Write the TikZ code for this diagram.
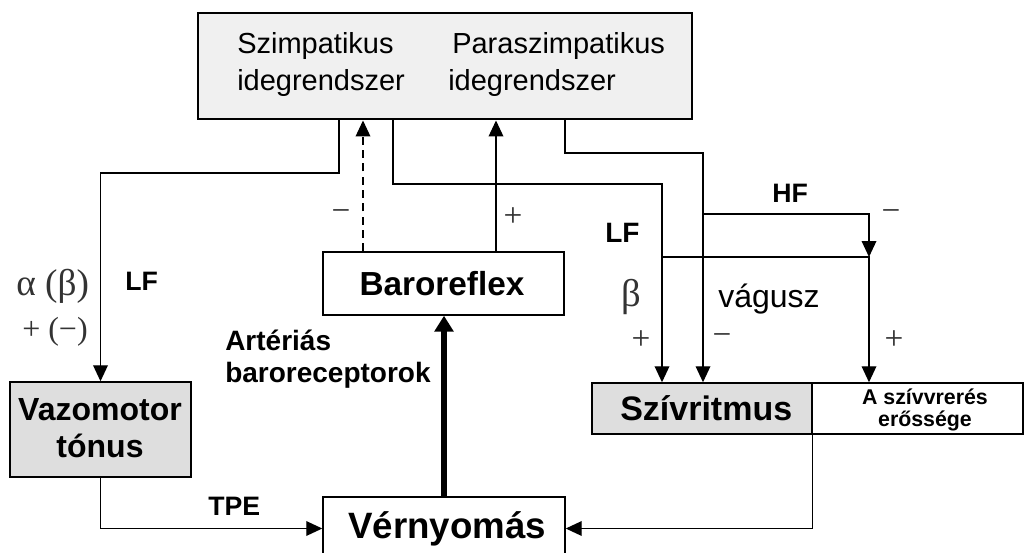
\documentclass[tikz,border=0pt]{standalone}
\usepackage{fontspec}
\setmainfont{Liberation Sans}
\newfontfamily\signfont{Liberation Serif}
\usetikzlibrary{arrows.meta}
\tikzset{
  conn/.style={line width=1pt},
  arr/.style={conn,-{Triangle[width=11pt,length=12pt]}},
  box/.style={draw,line width=1.1pt,inner sep=0pt},
  lbl/.style={inner sep=0pt,font=\bfseries\fontsize{20}{20}\selectfont},
  sign/.style={inner sep=0pt,text=black!80,font=\signfont\fontsize{25}{25}\selectfont},
  topfont/.style={inner sep=0pt,font=\fontsize{21.75}{21.75}\selectfont}
}
\begin{document}
\begin{tikzpicture}[x=0.75pt,y=-0.75pt]
  \useasboundingbox (0,0) rectangle (1024,553);
  \node[box,line width=2.2pt,fill=black!6,minimum width=370.5pt,minimum height=79.5pt] (ans) at (445,66) {};
  \node[topfont,anchor=base west] (symp) at (237,53) {Szimpatikus};
  \node[topfont,anchor=base west] (sympb) at (237,90) {idegrendszer};
  \node[topfont,anchor=base west] (para) at (452,53) {Paraszimpatikus};
  \node[topfont,anchor=base west] (parab) at (448,90) {idegrendszer};
  \node[box,minimum width=180.75pt,minimum height=47.25pt] (baro) at (443.5,283.5) {};
  \node[inner sep=0pt,anchor=base,font=\bfseries\fontsize{25}{25}\selectfont] at (442,295) {Baroreflex};
  \node[box,fill=black!13,minimum width=135.75pt,minimum height=71.25pt] (vazo) at (100.5,429.5) {};
  \node[inner sep=0pt,anchor=base,font=\bfseries\fontsize{24}{24}\selectfont] at (100,420) {Vazomotor};
  \node[inner sep=0pt,anchor=base,font=\bfseries\fontsize{24}{24}\selectfont] at (100,457) {tónus};
  \node[box,fill=black!13,minimum width=165pt,minimum height=38.25pt] (szr) at (702,408.5) {};
  \node[inner sep=0pt,anchor=base west,font=\bfseries\fontsize{25.5}{25.5}\selectfont] at (620,420) {Szívritmus};
  \node[box,minimum width=158.25pt,minimum height=38.25pt] (ero) at (917.5,408.5) {};
  \node[inner sep=0pt,anchor=base,font=\bfseries\fontsize{16}{16}\selectfont] at (925,404) {A szívvrerés};
  \node[inner sep=0pt,anchor=base,font=\bfseries\fontsize{16}{16}\selectfont] at (925,426) {erőssége};
  \node[box,minimum width=181.5pt,minimum height=47.25pt] (ver) at (444,528.5) {};
  \node[inner sep=0pt,anchor=base,font=\bfseries\fontsize{27.5}{27.5}\selectfont] at (447,538) {Vérnyomás};
  \node[inner sep=0pt,anchor=base west,font=\bfseries\fontsize{21}{21}\selectfont] at (225,350) {Artériás};
  \node[inner sep=0pt,anchor=base west,font=\bfseries\fontsize{21}{21}\selectfont] at (225,382) {baroreceptorok};
  \coordinate (vazok) at (339,173);
  \coordinate (dash) at (363,0);
  \coordinate (plus) at (496,0);
  \coordinate (lfk) at (393,184);
  \coordinate (vagk) at (565,153);
  \coordinate (hfk) at (703,214);
  \coordinate (hfv) at (869,257);
  \coordinate (lfv) at (662,257);
  \draw[arr] (vazok |- ans.south) -- (vazok) -| (vazo.north);
  \draw[arr,dashed,dash pattern=on 6pt off 4pt] (baro.north -| dash) -- (ans.south -| dash);
  \draw[arr] (baro.north -| plus) -- (ans.south -| plus);
  \draw[arr] (lfk |- ans.south) -- (lfk) -| (szr.north -| lfv);
  \draw[arr] (vagk |- ans.south) -- (vagk) -| (szr.north -| hfk);
  \draw[arr] (hfk) -| (hfv);
  \draw[arr] (lfv) -- (hfv) -- (ero.north -| hfv);
  \draw[arr] (vazo.south) |- (ver.west);
  \draw[arr] (szr.south east) |- (ver.east);
  \draw[line width=5pt,-{Triangle[width=14pt,length=12pt]}] (ver.north) -- (baro.south -| ver.north);
  \node[lbl,anchor=base west] (lfa) at (125,290) {LF};
  \node[sign,anchor=base west,font=\signfont\fontsize{28}{28}\selectfont] (ab) at (16,295) {α (β)};
  \node[sign,anchor=base west,font=\signfont\fontsize{24}{24}\selectfont] (pm) at (22,339) {+ (−)};
  \node[lbl,anchor=base west,font=\bfseries\fontsize{21}{21}\selectfont] (lfb) at (605,242) {LF};
  \node[lbl,anchor=base west] (hf) at (772,202) {HF};
  \node[sign] at (891,216) {−};
  \node[sign,anchor=base west,font=\signfont\fontsize{29}{29}\selectfont] (beta) at (621,306) {β};
  \node[inner sep=0pt,anchor=base west,font=\fontsize{24}{24}\selectfont] (vag) at (718,307) {vágusz};
  \node[sign] at (641,340) {+};
  \node[sign] at (722,340) {−};
  \node[sign] at (894,340) {+};
  \node[sign] at (341,216) {−};
  \node[sign] at (513,217) {+};
  \node[lbl,anchor=base west] (tpe) at (208,515) {TPE};
\end{tikzpicture}
\end{document}
